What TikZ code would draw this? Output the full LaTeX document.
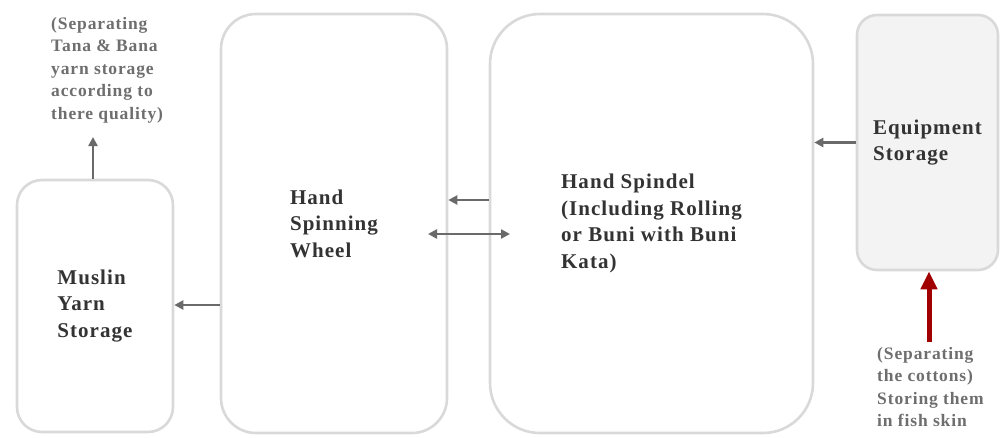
\documentclass[tikz,border=0pt]{standalone}
\usepackage{fontspec}
\setmainfont[LetterSpace=5]{Liberation Serif}
\usetikzlibrary{arrows.meta,calc}
\definecolor{boxline}{HTML}{D9D9D9}
\definecolor{txt}{HTML}{333333}
\definecolor{notetxt}{HTML}{6E6E6E}
\definecolor{arrgray}{HTML}{6A6A6A}
\definecolor{darkred}{HTML}{A00000}
\definecolor{equipfill}{HTML}{F3F3F3}
\begin{document}
\begin{tikzpicture}[x=1pt,y=-1pt,
  stagebox/.style={draw=boxline, line width=2.6pt, fill=white, align=left, text=txt,
    font=\bfseries\fontsize{21}{26.5}\selectfont, inner sep=0pt},
  notetext/.style={align=left, text=notetxt, font=\bfseries\fontsize{17.5}{22.5}\selectfont,
    inner sep=0pt, anchor=north west},
  arr/.style={draw=arrgray, line width=2.4pt, -{Triangle[length=9pt,width=9pt]}},
  dblarr/.style={draw=arrgray, line width=2.4pt, {Triangle[length=9pt,width=9pt]}-{Triangle[length=9pt,width=9pt]}},
  redarr/.style={draw=darkred, line width=5pt, -{Triangle[length=18pt,width=16pt]}}]
\useasboundingbox (0,0) rectangle (1002,437);
\node[stagebox, minimum width=156pt, minimum height=252pt, rounded corners=25pt] (muslin) at (95,306) {Muslin\\Yarn\\Storage};
\node[stagebox, minimum width=226pt, minimum height=419pt, rounded corners=35pt] (wheel) at (334,223.5) {Hand\\Spinning\\Wheel};
\node[stagebox, minimum width=323pt, minimum height=419pt, rounded corners=50pt] (spindle) at (651.5,223.5) {Hand Spindel\\(Including Rolling\\or Buni with Buni\\Kata)};
\node[stagebox, fill=equipfill, minimum width=141pt, minimum height=255pt, rounded corners=20pt] (equip) at (927.5,142.5) {Equipment\\Storage};
\node[notetext] (note1) at (51,17) {(Separating\\Tana \& Bana\\yarn storage\\according to\\there quality)};
\node[notetext] (note2) at (877,347) {(Separating\\the cottons)\\Storing them\\in fish skin};
\coordinate (y200) at (0,200);
\coordinate (y305) at (0,305);
\coordinate (dA) at (428,234);
\coordinate (dB) at (510,234);
\coordinate (upEnd) at (93,137);
\coordinate (redStart) at (929,342);
\draw[arr] (equip.west) -- (equip.west -| spindle.east);
\draw[arr] (spindle.west |- y200) -- (wheel.east |- y200);
\draw[dblarr] (dA) -- (dB);
\draw[arr] (wheel.west |- y305) -- (muslin.east |- y305);
\draw[arr] (muslin.north -| upEnd) -- (upEnd);
\draw[redarr] (redStart) -- (redStart |- equip.south);
\end{tikzpicture}
\end{document}
